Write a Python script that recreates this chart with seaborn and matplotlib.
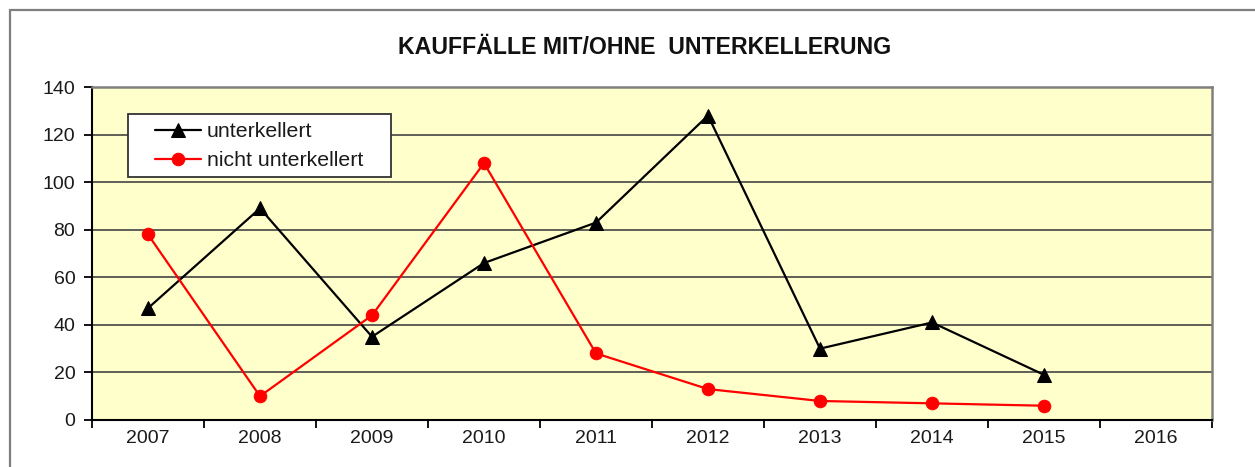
import matplotlib
matplotlib.use("Agg")
import matplotlib.pyplot as plt
from matplotlib.patches import Rectangle
import seaborn as sns

# Kauffälle je Jahr, mit und ohne Unterkellerung
years = [2007, 2008, 2009, 2010, 2011, 2012, 2013, 2014, 2015]
year_labels = ["2007", "2008", "2009", "2010", "2011", "2012", "2013", "2014", "2015", "2016"]
unterkellert = [47, 89, 35, 66, 83, 128, 30, 41, 19]
nicht_unterkellert = [78, 10, 44, 108, 28, 13, 8, 7, 6]
y_ticks = [0, 20, 40, 60, 80, 100, 120, 140]

sns.set_theme(style="white")
plt.rcParams["font.family"] = ["Liberation Sans", "DejaVu Sans"]

W, H = 1255, 467
fig = plt.figure(figsize=(W / 100, H / 100), dpi=100)
fig.patch.set_facecolor("white")

# Rahmen um das Diagramm
fig.patches.append(Rectangle((10 / W, -0.1), 1.2, 1 - 10 / H + 0.1,
                             transform=fig.transFigure, fill=False,
                             edgecolor="#7f7f7f", linewidth=1.6, zorder=0))

ax = fig.add_axes([92 / W, (H - 420) / H, (1212 - 92) / W, (420 - 87) / H])
ax.set_facecolor("#FFFFCC")

sns.lineplot(x=years, y=unterkellert, ax=ax, color="black", marker="^",
             markersize=10, markeredgecolor="black", linewidth=1.6,
             label="unterkellert", zorder=3)
sns.lineplot(x=years, y=nicht_unterkellert, ax=ax, color="#FF0000", marker="o",
             markersize=9, markeredgecolor="#FF0000", linewidth=1.6,
             label="nicht unterkellert", zorder=3)

ax.set_xlim(2006.5, 2016.5)
ax.set_ylim(0, 140)
ax.set_yticks(y_ticks)
ax.set_yticklabels([str(v) for v in y_ticks])
ax.set_xticks(list(range(2007, 2017)))
ax.set_xticklabels(year_labels)
ax.set_xticks([y + 0.5 for y in range(2006, 2017)], minor=True)

ax.grid(axis="y", color="#444444", linewidth=1.2)
ax.set_axisbelow(True)
ax.tick_params(axis="y", which="major", direction="out", length=6, width=1.3,
               color="black", left=True, pad=6, labelsize=14, labelcolor="#1a1a1a")
ax.tick_params(axis="x", which="major", length=0, pad=7, labelsize=14,
               labelcolor="#1a1a1a")
ax.tick_params(axis="x", which="minor", direction="out", length=6, width=1.3,
               color="black", bottom=True)

for side in ("left", "bottom"):
    ax.spines[side].set_color("black")
    ax.spines[side].set_linewidth(1.5)
for side in ("top", "right"):
    ax.spines[side].set_color("#808080")
    ax.spines[side].set_linewidth(1.8)

ax.set_xlabel("")
ax.set_ylabel("")

# Legende mit eigenem Rahmen
ax.add_patch(Rectangle((36 / 1120, 243 / 333), 263 / 1120, 63 / 333,
                       transform=ax.transAxes, facecolor="white",
                       edgecolor="#333333", linewidth=1.3, zorder=4))
leg = ax.legend(loc="upper left", bbox_to_anchor=(63 / 1120, 298 / 333),
                frameon=False, borderpad=0, borderaxespad=0,
                handlelength=2.15, handletextpad=0.3, labelspacing=0.47,
                fontsize=15.3)
leg.set_zorder(5)
for t in leg.get_texts():
    t.set_color("#1a1a1a")

fig.text(645 / W, 1 - 47 / H, "KAUFFÄLLE MIT/OHNE  UNTERKELLERUNG",
         ha="center", va="center", fontsize=16.7, fontweight="bold", color="#111111")

fig.savefig("out.png", dpi=100, facecolor="white")
